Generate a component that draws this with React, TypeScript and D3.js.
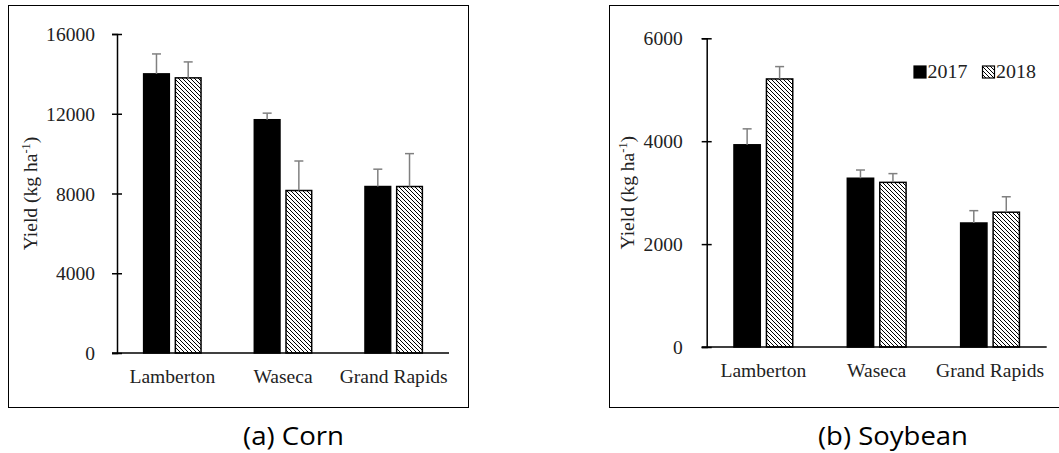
import { useEffect, useRef } from "react";
import * as d3 from "d3";

// sites and years
const sites = ["Lamberton", "Waseca", "Grand Rapids"];
const years = ["2017", "2018"];

// corn yield (kg/ha) with upper error
const corn2017 = [14000, 11700, 8350];
const corn2018 = [13800, 8150, 8350];
const cornErr2017 = [1000, 330, 870];
const cornErr2018 = [800, 1480, 1650];
const cornTicks = [0, 4000, 8000, 12000, 16000];

// soybean yield (kg/ha) with upper error
const soy2017 = [3930, 3280, 2410];
const soy2018 = [5210, 3200, 2620];
const soyErr2017 = [310, 160, 240];
const soyErr2018 = [240, 170, 300];
const soyTicks = [0, 2000, 4000, 6000];

const SERIF = "'Liberation Serif', 'Times New Roman', serif";
const FS = 19;
const SX = 1.03;

function drawPanel(svg: any, cfg: any) {
  const y = d3.scaleLinear().domain([0, cfg.max]).range([cfg.bottom, cfg.top]);
  const x0 = d3.scaleBand().domain(sites).range([cfg.left, cfg.right]);
  const x1 = d3
    .scaleBand()
    .domain(years)
    .range([0, x0.bandwidth()])
    .paddingInner(0.19)
    .paddingOuter(0.84);

  const g = svg.append("g");

  // y axis with crossing ticks
  const ay = g
    .append("g")
    .attr("transform", `translate(${cfg.left},0)`)
    .call(
      d3
        .axisLeft(y)
        .tickValues(cfg.ticks)
        .tickFormat(d3.format("d"))
        .tickSizeOuter(0)
        .tickSize(5)
    );
  ay.select(".domain").attr("stroke", "#000").attr("stroke-width", 1.5);
  ay.selectAll(".tick line").attr("x1", 5).attr("x2", -5).attr("stroke-width", 1.5);
  ay.selectAll(".tick text")
    .attr("x", null)
    .attr("dy", null)
    .attr("transform", `translate(${-cfg.labelGap},6.5) scale(${SX},1)`)
    .attr("font-family", SERIF)
    .attr("font-size", FS)
    .attr("fill", "#222");

  // bars
  const flat = sites.flatMap((s, i) => [
    { site: s, year: "2017", v: cfg.a[i], e: cfg.ea[i] },
    { site: s, year: "2018", v: cfg.b[i], e: cfg.eb[i] },
  ]);
  const cx = (d: any) => x0(d.site)! + x1(d.year)! + x1.bandwidth() / 2;

  g.selectAll("rect.bar")
    .data(flat)
    .join("rect")
    .attr("class", "bar")
    .attr("x", (d: any) => x0(d.site)! + x1(d.year)!)
    .attr("y", (d: any) => y(d.v))
    .attr("width", x1.bandwidth())
    .attr("height", (d: any) => y(0) - y(d.v))
    .attr("fill", (d: any) => (d.year === "2017" ? "#000" : "url(#hatch)"))
    .attr("stroke", "#000")
    .attr("stroke-width", 1.5);

  // error bars (upper only)
  const eg = g
    .selectAll("g.err")
    .data(flat)
    .join("g")
    .attr("class", "err")
    .attr("stroke", "#808080")
    .attr("stroke-width", 1.5);
  eg.append("line")
    .attr("x1", cx)
    .attr("x2", cx)
    .attr("y1", (d: any) => y(d.v))
    .attr("y2", (d: any) => y(d.v + d.e));
  eg.append("line")
    .attr("x1", (d: any) => cx(d) - 4.5)
    .attr("x2", (d: any) => cx(d) + 4.5)
    .attr("y1", (d: any) => y(d.v + d.e))
    .attr("y2", (d: any) => y(d.v + d.e));

  // x axis line
  g.append("line")
    .attr("x1", cfg.left - 5)
    .attr("x2", cfg.right)
    .attr("y1", y(0))
    .attr("y2", y(0))
    .attr("stroke", "#000")
    .attr("stroke-width", 1.5);

  // category labels
  g.selectAll("text.cat")
    .data(sites)
    .join("text")
    .attr("class", "cat")
    .attr("transform", (d: string) => `translate(${x0(d)! + x0.bandwidth() / 2},${cfg.catY}) scale(${SX},1)`)
    .attr("text-anchor", "middle")
    .attr("font-family", SERIF)
    .attr("font-size", FS)
    .attr("fill", "#222")
    .text((d: string) => d);

  // y label
  const yl = g
    .append("text")
    .attr("transform", `translate(${cfg.ylabX},${(cfg.top + cfg.bottom) / 2}) rotate(-90) scale(${SX},1)`)
    .attr("text-anchor", "middle")
    .attr("font-family", SERIF)
    .attr("font-size", FS)
    .attr("fill", "#222");
  yl.append("tspan").text("Yield (kg ha");
  yl.append("tspan").attr("font-size", 12).attr("dy", -7).text("-1");
  yl.append("tspan").attr("dy", 7).text(")");
}

export default function App() {
  const ref = useRef<SVGSVGElement | null>(null);

  useEffect(() => {
    const svg = d3.select(ref.current);
    svg.selectAll("*").remove();

    const defs = svg.append("defs");
    const pat = defs
      .append("pattern")
      .attr("id", "hatch")
      .attr("patternUnits", "userSpaceOnUse")
      .attr("width", 4)
      .attr("height", 4);
    pat.append("rect").attr("width", 4).attr("height", 4).attr("fill", "#fff");
    pat
      .append("path")
      .attr("d", "M-1,-1 L5,5 M-1,3 L1,5 M3,-1 L5,1")
      .attr("stroke", "#000")
      .attr("stroke-width", 1);

    // panel frames
    svg.append("rect").attr("x", 8.5).attr("y", 5.5).attr("width", 460).attr("height", 402)
      .attr("fill", "none").attr("stroke", "#000").attr("stroke-width", 1);
    svg.append("rect").attr("x", 609.5).attr("y", 5.5).attr("width", 500).attr("height", 402)
      .attr("fill", "none").attr("stroke", "#000").attr("stroke-width", 1);

    drawPanel(svg, {
      left: 117, right: 449, top: 34, bottom: 353, max: 16000, ticks: cornTicks,
      a: corn2017, b: corn2018, ea: cornErr2017, eb: cornErr2018,
      labelGap: 22, catY: 383, ylabX: 37,
    });
    drawPanel(svg, {
      left: 706.7, right: 1046.7, top: 38.3, bottom: 347, max: 6000, ticks: soyTicks,
      a: soy2017, b: soy2018, ea: soyErr2017, eb: soyErr2018,
      labelGap: 24, catY: 377, ylabX: 634,
    });

    // legend
    const leg = svg.append("g");
    const legX = [914, 982.5];
    leg.selectAll("rect")
      .data(years)
      .join("rect")
      .attr("x", (_d: string, i: number) => legX[i])
      .attr("y", 66)
      .attr("width", 12)
      .attr("height", 12)
      .attr("fill", (d: string) => (d === "2017" ? "#000" : "url(#hatch)"))
      .attr("stroke", "#000")
      .attr("stroke-width", 1.2);
    leg.selectAll("text")
      .data(years)
      .join("text")
      .attr("transform", (_d: string, i: number) => `translate(${legX[i] + 13.5},78) scale(1.05,1)`)
      .attr("font-family", SERIF)
      .attr("font-size", FS)
      .attr("fill", "#222")
      .text((d: string) => d);

    // captions
    const caps = [
      { t: "(a) Corn", x: 243, len: 101 },
      { t: "(b) Soybean", x: 818, len: 150 },
    ];
    svg.selectAll("text.cap")
      .data(caps)
      .join("text")
      .attr("class", "cap")
      .attr("x", (d: any) => d.x)
      .attr("y", 445)
      .attr("textLength", (d: any) => d.len)
      .attr("lengthAdjust", "spacingAndGlyphs")
      .attr("font-family", "'Open Sans', 'Noto Sans', sans-serif")
      .attr("font-size", 25)
      .attr("fill", "#000")
      .text((d: any) => d.t);
  }, []);

  return (
    <svg
      ref={ref}
      width={1059}
      height={453}
      style={{ position: "absolute", left: 0, top: 0, background: "#fff" }}
    />
  );
}
